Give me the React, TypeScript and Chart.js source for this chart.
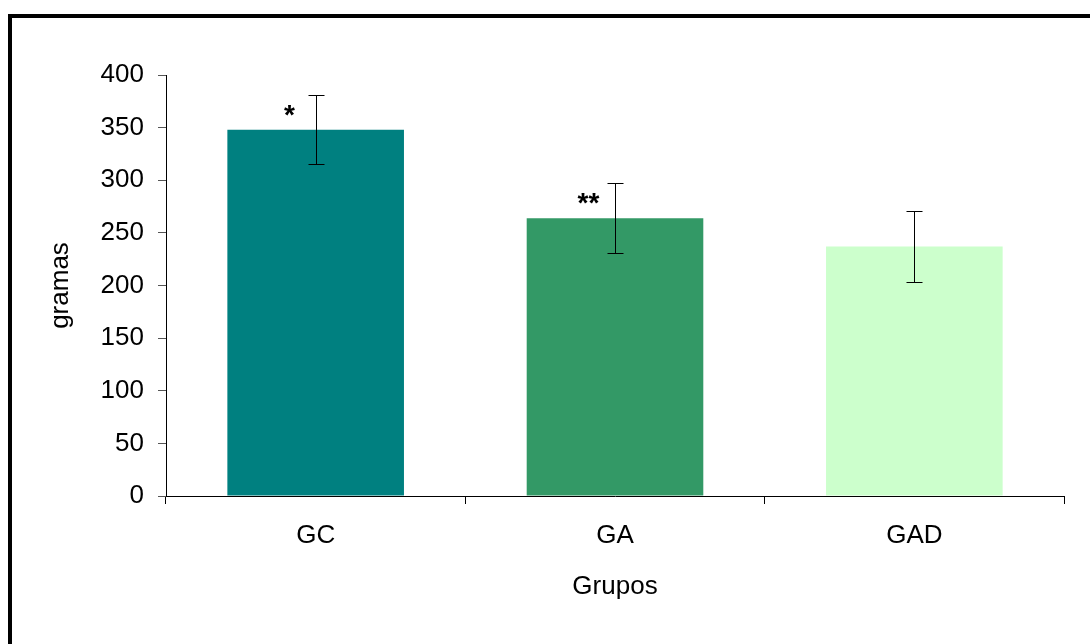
import React, { useEffect, useRef } from "react";
import { Chart, registerables } from "chart.js";

Chart.register(...registerables);

const categories = ["GC", "GA", "GAD"];
const means = [348, 264, 237];
const errors = [33, 33, 33.5];
const marks = ["*", "**", ""];
const barColors = ["#008080", "#339966", "#CCFFCC"];
const yTicks = [0, 50, 100, 150, 200, 250, 300, 350, 400];

const FONT = "'Liberation Sans', Arial, sans-serif";
const FS = 26;

const decorPlugin = {
  id: "decor",
  afterDatasetsDraw(chart: any) {
    const ctx = chart.ctx;
    const meta = chart.getDatasetMeta(0);
    const y = chart.scales.y;
    ctx.save();
    meta.data.forEach((bar: any, i: number) => {
      const x = Math.round(bar.x) + 0.5;
      const hi = Math.round(y.getPixelForValue(means[i] + errors[i])) + 0.5;
      const lo = Math.round(y.getPixelForValue(means[i] - errors[i])) + 0.5;
      ctx.strokeStyle = "#000";
      ctx.lineWidth = 1;
      ctx.beginPath();
      ctx.moveTo(x, hi);
      ctx.lineTo(x, lo);
      ctx.moveTo(x - 8, hi);
      ctx.lineTo(x + 8, hi);
      ctx.moveTo(x - 8, lo);
      ctx.lineTo(x + 8, lo);
      ctx.stroke();
      if (marks[i]) {
        ctx.fillStyle = "#000";
        ctx.font = `bold 28px ${FONT}`;
        ctx.textAlign = "center";
        ctx.textBaseline = "alphabetic";
        ctx.fillText(marks[i], x - 27, bar.y - 6);
      }
    });
    // frame (top and left edges of the outer border)
    ctx.fillStyle = "#000";
    ctx.fillRect(8, 14, chart.width - 8, 4);
    ctx.fillRect(8, 14, 4, chart.height - 14);
    ctx.restore();
  },
};

export default function App() {
  const ref = useRef<HTMLCanvasElement>(null);
  useEffect(() => {
    if (!ref.current) return;
    const chart = new Chart(ref.current, {
      type: "bar",
      data: {
        labels: categories,
        datasets: [
          {
            data: means,
            backgroundColor: barColors,
            borderWidth: 0,
            categoryPercentage: 0.59,
            barPercentage: 1,
          },
        ],
      },
      options: {
        animation: false,
        responsive: false,
        maintainAspectRatio: false,
        layout: { padding: { left: 0, right: 26, top: 75, bottom: 0 } },
        plugins: { legend: { display: false }, tooltip: { enabled: false } },
        scales: {
          x: {
            grid: {
              display: true,
              drawOnChartArea: false,
              drawTicks: true,
              tickLength: 8,
              color: "#000",
              offset: true,
            },
            border: { display: true, color: "#000", width: 1 },
            ticks: { color: "#000", font: { family: FONT, size: FS }, padding: 16 },
            title: {
              display: true,
              text: "Grupos",
              color: "#000",
              font: { family: FONT, size: FS },
              padding: { top: 0, bottom: 42 },
            },
            afterFit: (s: any) => {
              s.height = 148;
            },
          },
          y: {
            min: 0,
            max: 400,
            grid: {
              display: true,
              drawOnChartArea: false,
              drawTicks: true,
              tickLength: 8,
              color: "#555",
            },
            border: { display: true, color: "#000", width: 1 },
            afterBuildTicks: (s: any) => {
              s.ticks = yTicks.map((v) => ({ value: v }));
            },
            ticks: { color: "#000", font: { family: FONT, size: FS }, padding: 14 },
            title: {
              display: true,
              text: "gramas",
              color: "#000",
              font: { family: FONT, size: FS },
              padding: { top: 45, bottom: 0 },
            },
            afterFit: (s: any) => {
              s.width = 166;
            },
          },
        },
      },
      plugins: [decorPlugin],
    });
    return () => chart.destroy();
  }, []);
  return (
    <div style={{ position: "fixed", left: 0, top: 0, width: 1090, height: 644, background: "#fff" }}>
      <canvas ref={ref} width={1090} height={644} style={{ width: 1090, height: 644, display: "block" }} />
    </div>
  );
}
